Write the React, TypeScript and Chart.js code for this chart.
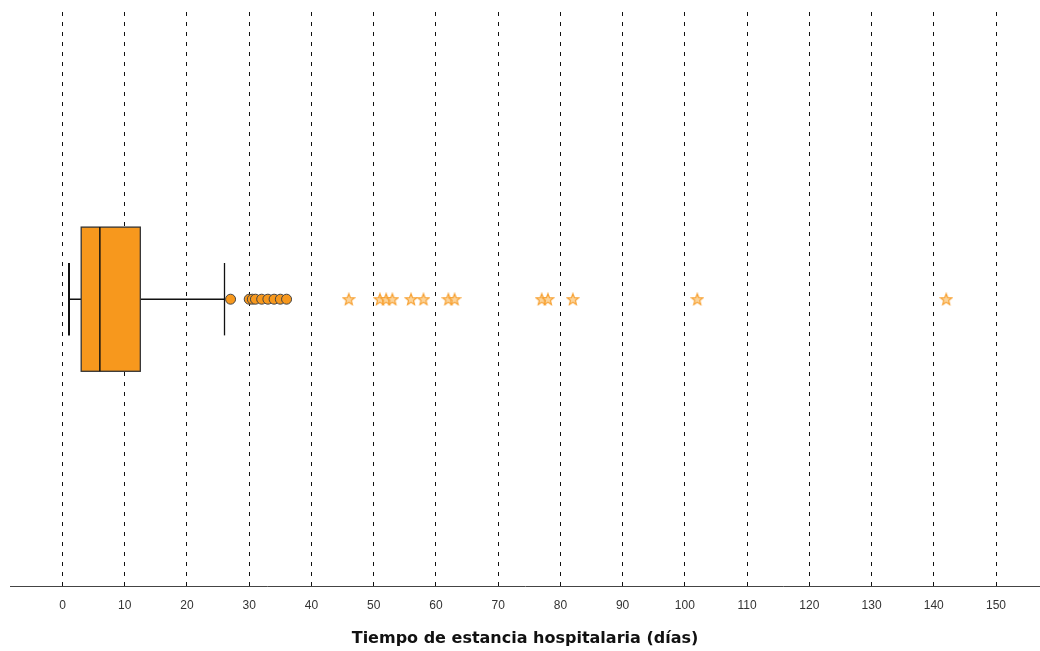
import React, { useEffect, useRef } from "react";
import { Chart, registerables } from "chart.js";

Chart.register(...registerables);

// Five-number summary of hospital stay (days)
const boxLow = 1;
const boxQ1 = 3;
const boxMedian = 6;
const boxQ3 = 12.5;
const boxHigh = 26;

// Mild outliers (circles) and extreme outliers (stars)
const mildOutliers = [27, 30, 30.5, 31, 32, 33, 34, 35, 36];
const extremeOutliers = [46, 51, 52, 53, 56, 58, 62, 63, 77, 78, 82, 102, 142];

const xTicks = [0, 10, 20, 30, 40, 50, 60, 70, 80, 90, 100, 110, 120, 130, 140, 150];
const axisTitle = "Tiempo de estancia hospitalaria (días)";

const ORANGE = "#F7981D";
const STAR_LINE = "#F7A030";
const STAR_FILL = "#FCD49A";
const BOX_HALF = 0.251;
const CAP_HALF = 0.126;

// Five-pointed star marker drawn once on an offscreen canvas
function makeStar(): HTMLCanvasElement {
  const size = 14;
  const c = document.createElement("canvas");
  c.width = size;
  c.height = size;
  const g = c.getContext("2d") as CanvasRenderingContext2D;
  const cx = size / 2;
  const cy = size / 2 + 0.5;
  const outer = 6;
  const inner = 2.6;
  g.beginPath();
  for (let i = 0; i < 10; i++) {
    const r = i % 2 === 0 ? outer : inner;
    const a = -Math.PI / 2 + (i * Math.PI) / 5;
    const px = cx + r * Math.cos(a);
    const py = cy + r * Math.sin(a);
    if (i === 0) g.moveTo(px, py);
    else g.lineTo(px, py);
  }
  g.closePath();
  g.fillStyle = STAR_FILL;
  g.fill();
  g.strokeStyle = STAR_LINE;
  g.lineWidth = 1.2;
  g.stroke();
  return c;
}

const boxPlugin = {
  id: "boxPlot",
  beforeDatasetsDraw(chart: any) {
    const { ctx, scales } = chart;
    const x = scales.x;
    const y = scales.y;
    const px = (v: number) => x.getPixelForValue(v);
    const yc = y.getPixelForValue(0);
    const yTop = y.getPixelForValue(BOX_HALF);
    const yBot = y.getPixelForValue(-BOX_HALF);
    const cTop = y.getPixelForValue(CAP_HALF);
    const cBot = y.getPixelForValue(-CAP_HALF);
    ctx.save();
    ctx.strokeStyle = "#111";
    // whiskers
    ctx.lineWidth = 1.5;
    ctx.beginPath();
    ctx.moveTo(px(boxLow), yc);
    ctx.lineTo(px(boxQ1), yc);
    ctx.moveTo(px(boxQ3), yc);
    ctx.lineTo(px(boxHigh), yc);
    ctx.stroke();
    ctx.lineWidth = 2;
    ctx.beginPath();
    ctx.moveTo(Math.round(px(boxLow)), cTop);
    ctx.lineTo(Math.round(px(boxLow)), cBot);
    ctx.stroke();
    ctx.lineWidth = 1.3;
    ctx.beginPath();
    ctx.moveTo(Math.round(px(boxHigh)) + 0.5, cTop);
    ctx.lineTo(Math.round(px(boxHigh)) + 0.5, cBot);
    ctx.stroke();
    // box
    ctx.fillStyle = ORANGE;
    ctx.lineWidth = 1.3;
    const bx = px(boxQ1);
    const bw = px(boxQ3) - bx;
    ctx.fillRect(bx, yTop, bw, yBot - yTop);
    ctx.strokeStyle = "#333";
    ctx.strokeRect(bx, yTop, bw, yBot - yTop);
    // median
    ctx.strokeStyle = "#111";
    ctx.lineWidth = 1.5;
    ctx.beginPath();
    ctx.moveTo(px(boxMedian), yTop);
    ctx.lineTo(px(boxMedian), yBot);
    ctx.stroke();
    ctx.restore();
  },
};

export default function App() {
  const ref = useRef<HTMLCanvasElement | null>(null);

  useEffect(() => {
    document.body.style.margin = "0";
    const star = makeStar();
    const chart = new Chart(ref.current as HTMLCanvasElement, {
      type: "scatter",
      data: {
        datasets: [
          {
            data: mildOutliers.map((v) => ({ x: v, y: 0 })),
            pointStyle: "circle",
            pointRadius: 5,
            backgroundColor: ORANGE,
            borderColor: "#444",
            borderWidth: 1,
          },
          {
            data: extremeOutliers.map((v) => ({ x: v, y: 0 })),
            pointStyle: star,
            pointRadius: 6,
          },
        ],
      },
      options: {
        animation: false,
        responsive: false,
        events: [],
        layout: { autoPadding: false, padding: { top: 12, left: 10, right: 0, bottom: 3 } },
        plugins: { legend: { display: false }, tooltip: { enabled: false } },
        scales: {
          y: { display: false, min: -1, max: 1 },
          x: {
            type: "linear",
            min: -8.44,
            max: 157.07,
            afterBuildTicks: (s: any) => {
              s.ticks = xTicks.map((v) => ({ value: v }));
            },
            afterFit: (s: any) => {
              s.paddingLeft = 0;
              s.paddingRight = 0;
            },
            grid: {
              color: "#111",
              lineWidth: 1,
              drawTicks: false,
            },
            border: { display: true, color: "#444", width: 1, dash: [4, 6] },
            ticks: {
              padding: 12,
              color: "#333",
              font: { family: "Liberation Sans", size: 12 },
            },
            title: {
              display: true,
              text: axisTitle,
              color: "#111",
              font: { family: "DejaVu Sans", size: 16, weight: "bold" },
              padding: { top: 4, bottom: 0 },
            },
          },
        },
      },
      plugins: [boxPlugin],
    } as any);
    return () => chart.destroy();
  }, []);

  return (
    <div style={{ width: 1040, height: 651 }}>
      <canvas ref={ref} width={1040} height={651} style={{ display: "block" }} />
    </div>
  );
}
